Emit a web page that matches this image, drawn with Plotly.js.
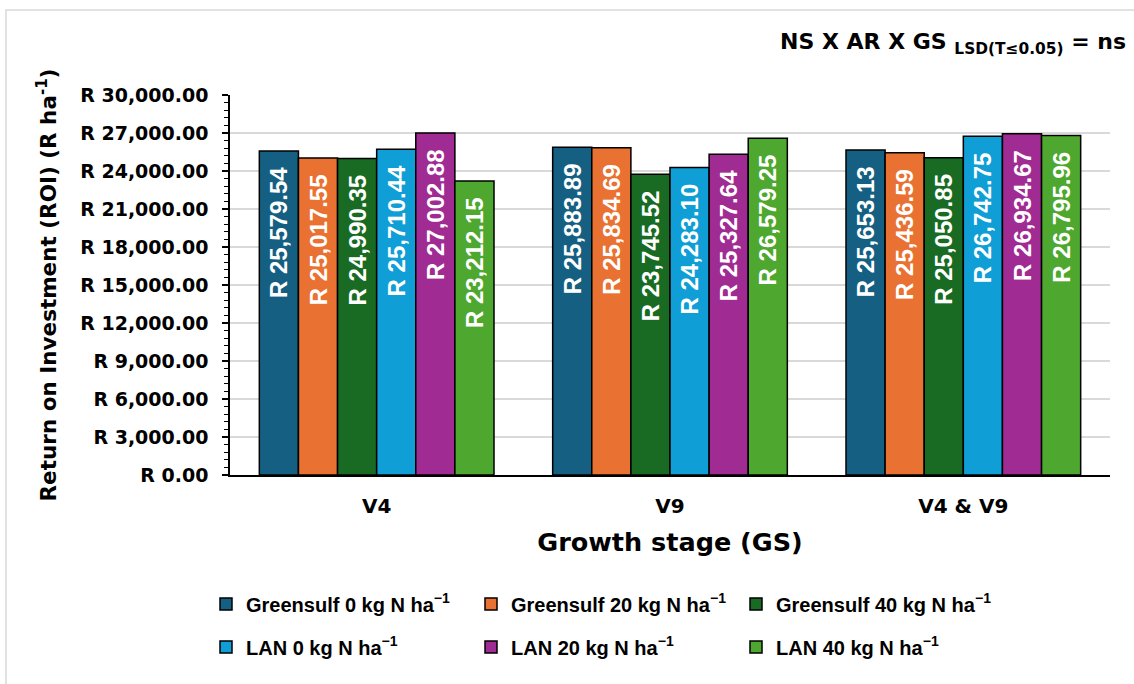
<!DOCTYPE html>
<html>
<head>
<meta charset="utf-8">
<script src="https://cdn.plot.ly/plotly-3.0.1.min.js"></script>
<style>html,body{margin:0;padding:0;background:#fff;}#chart{width:1134px;height:684px;}</style>
</head>
<body>
<div id="chart"></div>
<script>
const stages = ['V4', 'V9', 'V4 & V9'];
const seriesNames = [
  'Greensulf 0 kg N ha<sup>\u22121</sup>',
  'Greensulf 20 kg N ha<sup>\u22121</sup>',
  'Greensulf 40 kg N ha<sup>\u22121</sup>',
  'LAN 0 kg N ha<sup>\u22121</sup>',
  'LAN 20 kg N ha<sup>\u22121</sup>',
  'LAN 40 kg N ha<sup>\u22121</sup>'
];
const greensulf0 = [25579.54, 25883.89, 25653.13];
const greensulf20 = [25017.55, 25834.69, 25436.59];
const greensulf40 = [24990.35, 23745.52, 25050.85];
const lan0 = [25710.44, 24283.10, 26742.75];
const lan20 = [27002.88, 25327.64, 26934.67];
const lan40 = [23212.15, 26579.25, 26795.96];
const seriesValues = [greensulf0, greensulf20, greensulf40, lan0, lan20, lan40];
const colors = ['#156082', '#E97132', '#196B24', '#0F9ED5', '#A02B93', '#4EA72E'];

const ARIAL = 'Arial, "Liberation Sans", sans-serif';
const WIDE = '"DejaVu Sans", Arial, sans-serif';

const traces = seriesValues.map((vals, i) => ({
  type: 'bar',
  name: seriesNames[i],
  x: stages,
  y: vals,
  legend: i < 3 ? 'legend' : 'legend2',
  marker: {color: colors[i], line: {color: '#000000', width: 1.5}},
  texttemplate: 'R %{y:,.2f}\u00A0\u00A0',
  textposition: 'inside',
  insidetextanchor: 'end',
  textangle: -90,
  insidetextfont: {family: ARIAL, size: 24, color: '#ffffff', weight: 'bold'},
  constraintext: 'none',
  hoverinfo: 'x+y+name'
}));

// plot area: x 230..1110, y 95..475
const L = 230, R = 1110, T = 95, B = 475;
const px = v => (v - L) / (R - L);
const py = v => (B - v) / (B - T);

const legendCommon = {
  orientation: 'h',
  xanchor: 'left',
  yanchor: 'middle',
  entrywidth: 220, entrywidthmode: 'pixels',
  font: {family: ARIAL, size: 20, weight: 'bold', color: '#000000'},
  bgcolor: 'rgba(0,0,0,0)',
  traceorder: 'normal'
};

const layout = {
  width: 1134,
  height: 684,
  margin: {l: L, r: 1134 - R, t: T, b: 684 - B},
  paper_bgcolor: '#ffffff',
  plot_bgcolor: '#ffffff',
  font: {family: WIDE, color: '#000000'},
  barmode: 'group',
  bargap: 0.2,
  bargroupgap: 0,
  xaxis: {
    type: 'category',
    showline: true,
    linecolor: '#000000',
    linewidth: 1.5,
    ticks: '',
    ticklabelstandoff: 12,
    tickfont: {family: WIDE, size: 20, weight: 'bold', color: '#000000'},
    title: {text: 'Growth stage (GS)', font: {family: WIDE, size: 25.5, weight: 'bold', color: '#000000'}, standoff: 16},
    showgrid: false,
    zeroline: false
  },
  yaxis: {
    range: [0, 30000],
    dtick: 3000,
    tick0: 0,
    tickprefix: 'R ',
    tickformat: ',.2f',
    showline: true,
    linecolor: '#000000',
    linewidth: 1.5,
    ticks: 'outside',
    ticklen: 6,
    tickwidth: 1.5,
    tickcolor: '#000000',
    ticklabelstandoff: 10,
    minor: {dtick: 600, ticks: 'outside', ticklen: 4, tickwidth: 1.2, tickcolor: '#000000', showgrid: false},
    showgrid: true,
    gridcolor: '#d9d9d9',
    gridwidth: 1.5,
    zeroline: false,
    tickfont: {family: WIDE, size: 19, weight: 'bold', color: '#000000'},
    title: {text: 'Return on Investment (ROI) (R ha<sup>-1</sup>)', font: {family: WIDE, size: 21.5, weight: 'bold', color: '#000000'}, standoff: 18}
  },
  showlegend: true,
  legend: Object.assign({}, legendCommon, {x: px(206), y: py(604)}),
  legend2: Object.assign({}, legendCommon, {x: px(206), y: py(647)}),
  annotations: [{
    xref: 'paper', yref: 'paper',
    x: px(1128), xanchor: 'right',
    y: py(43), yanchor: 'middle',
    showarrow: false,
    text: 'NS X AR X GS <sub>LSD(T\u22640.05)</sub> = ns',
    font: {family: WIDE, size: 22, weight: 'bold', color: '#000000'}
  }],
  shapes: [{
    type: 'rect', xref: 'paper', yref: 'paper',
    x0: px(6), x1: px(1145), y0: py(695), y1: py(10),
    line: {color: '#d9d9d9', width: 1.5},
    fillcolor: 'rgba(0,0,0,0)',
    layer: 'below'
  }]
};

Plotly.newPlot('chart', traces, layout, {displayModeBar: false, responsive: false});
</script>
</body>
</html>
